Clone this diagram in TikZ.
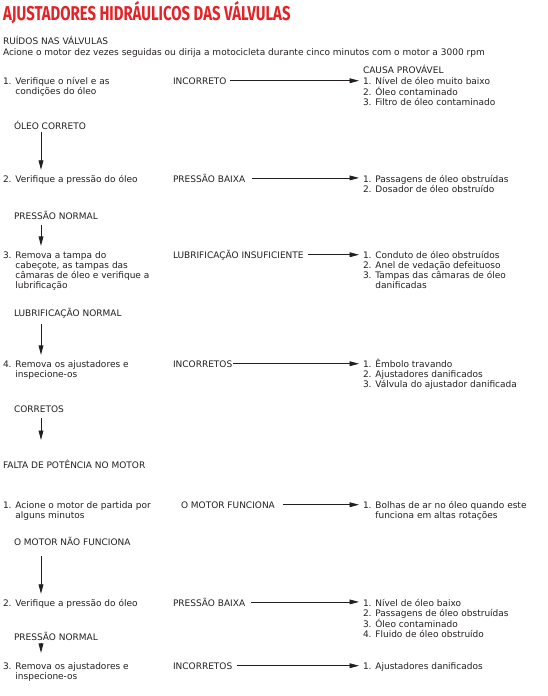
\documentclass[tikz,border=0pt]{standalone}
\usepackage{fontspec}
\setmainfont{DejaVu Sans}
\newfontfamily\titlefont[FakeStretch=0.745]{Fira Sans Bold}
\usetikzlibrary{arrows.meta,calc}
\definecolor{titlered}{RGB}{226,35,40}
\definecolor{ink}{RGB}{35,31,32}
\newcommand{\hin}{\hphantom{1. }}
\newcommand{\ml}[1]{\begin{tabular}[t]{@{}l@{}}#1\end{tabular}}
\begin{document}
\begin{tikzpicture}[x=1pt,y=-1pt,
  txt/.style={anchor=base west,inner sep=0pt,outer sep=0pt,text=ink,
    font=\fontsize{9}{10.2}\selectfont},
  ttl/.style={anchor=base west,inner sep=0pt,text=titlered,font=\titlefont\fontsize{20}{20}\selectfont},
  harr/.style={draw=ink,line width=0.8pt,-{Triangle[length=9.5pt,width=4.8pt]}},
  varr/.style={draw=ink,line width=0.8pt,-{Triangle[length=9.5pt,width=4.8pt]}}]
\useasboundingbox (0,0) rectangle (547,696);
\coordinate (vx) at (41,0);
\node[ttl] (title) at (3,20) {AJUSTADORES HIDRÁULICOS DAS VÁLVULAS};
\node[txt] (h1) at (3,44) {RUÍDOS NAS VÁLVULAS};
\node[txt] (h1b) at (3,55) {Acione o motor dez vezes seguidas ou dirija a motocicleta durante cinco minutos com o motor a 3000 rpm};
\node[txt] (causeh) at (363,73) {CAUSA PROVÁVEL};
% section 1
\node[txt] (s1) at (3,84) {\ml{1. Verifique o nível e as\\\hin condições do óleo}};
\node[txt] (c1) at (173,84) {INCORRETO};
\node[txt] (k1) at (363,84) {\ml{1. Nível de óleo muito baixo\\2. Óleo contaminado\\3. Filtro de óleo contaminado}};
\node[txt] (l1) at (14,129) {ÓLEO CORRETO};
\node[txt] (s2) at (3,182) {2. Verifique a pressão do óleo};
\node[txt] (c2) at (173,182) {PRESSÃO BAIXA};
\node[txt] (k2) at (363,182) {\ml{1. Passagens de óleo obstruídas\\2. Dosador de óleo obstruído}};
\node[txt] (l2) at (14,219) {PRESSÃO NORMAL};
\node[txt] (s3) at (3,258) {\ml{3. Remova a tampa do\\\hin cabeçote, as tampas das\\\hin câmaras de óleo e verifique a\\\hin lubrificação}};
\node[txt] (c3) at (173,258) {LUBRIFICAÇÃO INSUFICIENTE};
\node[txt] (k3) at (363,258) {\ml{1. Conduto de óleo obstruídos\\2. Anel de vedação defeituoso\\3. Tampas das câmaras de óleo\\\hin danificadas}};
\node[txt] (l3) at (14,316) {LUBRIFICAÇÃO NORMAL};
\node[txt] (s4) at (3,367) {\ml{4. Remova os ajustadores e\\\hin inspecione-os}};
\node[txt] (c4) at (173,367) {INCORRETOS};
\node[txt] (k4) at (363,367) {\ml{1. Êmbolo travando\\2. Ajustadores danificados\\3. Válvula do ajustador danificada}};
\node[txt] (l4) at (14,412) {CORRETOS};
\coordinate (e4) at (41,440);
% section 2
\node[txt] (h2) at (3,468) {FALTA DE POTÊNCIA NO MOTOR};
\node[txt] (t1) at (3,508) {\ml{1. Acione o motor de partida por\\\hin alguns minutos}};
\node[txt] (d1) at (181,508) {O MOTOR FUNCIONA};
\node[txt] (m1) at (363,508) {\ml{1. Bolhas de ar no óleo quando este\\\hin funciona em altas rotações}};
\node[txt] (n1) at (14,545) {O MOTOR NÃO FUNCIONA};
\node[txt] (t2) at (3,606) {2. Verifique a pressão do óleo};
\node[txt] (d2) at (173,606) {PRESSÃO BAIXA};
\node[txt] (m2) at (363,606) {\ml{1. Nível de óleo baixo\\2. Passagens de óleo obstruídas\\3. Óleo contaminado\\4. Fluido de óleo obstruído}};
\node[txt] (n2) at (14,640) {PRESSÃO NORMAL};
\node[txt] (t3) at (3,669) {\ml{3. Remova os ajustadores e\\\hin inspecione-os}};
\node[txt] (d3) at (173,669) {INCORRETOS};
\node[txt] (m3) at (363,669) {1. Ajustadores danificados};
% horizontal arrows
\foreach \c/\k/\g in {c1/k1/3,c2/k2/7,c3/k3/4,c4/k4/1,d1/m1/8,d2/m2/6,d3/m3/5}{
  \draw[harr] ($(\c.east)+(\g,0)$) -- ($(\c.east -| \k.west)+(-4,0)$);
}
% vertical arrows
\draw[varr] ($(l1.south -| vx)+(0,2.5)$) -- ($(s2.north -| vx)+(0,-5)$);
\draw[varr] ($(l2.south -| vx)+(0,5.5)$) -- ($(s3.north -| vx)+(0,-5)$);
\draw[varr] ($(l3.south -| vx)+(0,6)$) -- ($(s4.north -| vx)+(0,-5)$);
\draw[varr] ($(l4.south -| vx)+(0,6)$) -- (e4);
\draw[varr] ($(n1.south -| vx)+(0,11)$) -- ($(t2.north -| vx)+(0,-5)$);
\draw[varr] ($(n2.south -| vx)+(0,3)$) -- ($(t3.north -| vx)+(0,-9)$);
\end{tikzpicture}
\end{document}
